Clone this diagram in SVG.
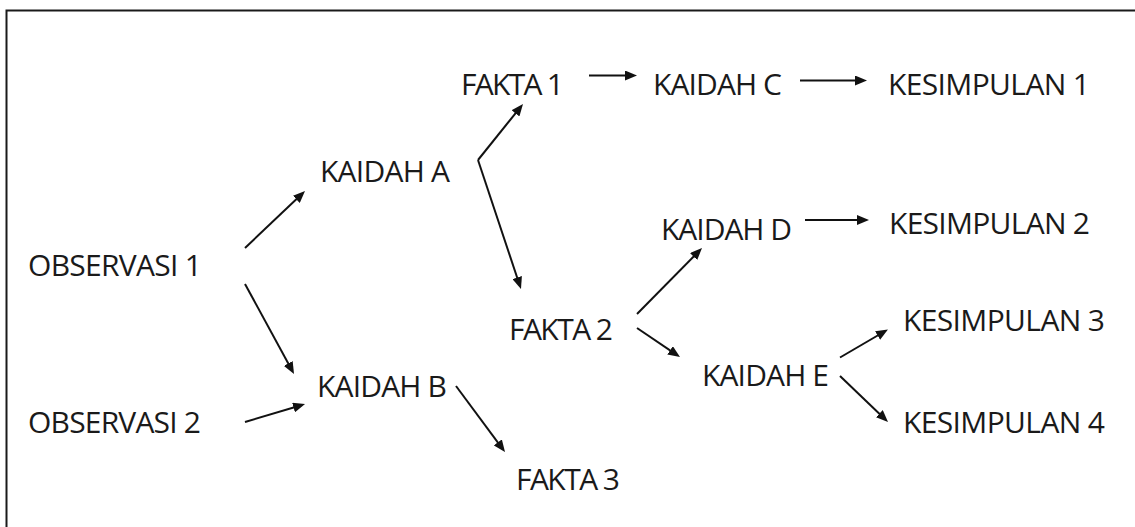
<svg xmlns="http://www.w3.org/2000/svg" width="1135" height="527" viewBox="0 0 1135 527">
  <style>
    .lbl { font-family: "Open Sans", "Noto Sans", "Liberation Sans", sans-serif; font-size: 30px; fill: #1a1a1a; }
    .conn line { stroke: #111; stroke-width: 2; fill: none; marker-end: url(#arrow); }
  </style>
  <defs>
    <marker id="arrow" viewBox="0 0 12 10" markerUnits="userSpaceOnUse" markerWidth="12" markerHeight="10" refX="8" refY="5" orient="auto">
      <path d="M0,0 L12,5 L0,10 z" fill="#111"/>
    </marker>
  </defs>
  <rect x="0" y="0" width="1135" height="527" fill="#fff"/>
  <rect x="6.5" y="10.5" width="1140" height="530" fill="none" stroke="#1a1a1a" stroke-width="2"/>

  <g class="conn" id="connectors">
    <line x1="245" y1="248" x2="302.1" y2="193.8"/>
    <line x1="245" y1="284" x2="292.1" y2="370.5"/>
    <line x1="245" y1="422" x2="301.2" y2="405.2"/>
    <line x1="478" y1="160" x2="520.5" y2="107.1"/>
    <line x1="478" y1="160" x2="519.7" y2="285.2"/>
    <line x1="589" y1="75.5" x2="633" y2="75.5"/>
    <line x1="800" y1="80.5" x2="863" y2="80.5"/>
    <line x1="637" y1="314" x2="699.2" y2="250.9"/>
    <line x1="637" y1="328" x2="676.7" y2="354.8"/>
    <line x1="805" y1="220" x2="865" y2="220"/>
    <line x1="840" y1="357.5" x2="884.5" y2="331.5"/>
    <line x1="840" y1="376" x2="885.1" y2="419.2"/>
    <line x1="456" y1="386" x2="502.6" y2="448.8"/>
  </g>

  <g id="observasi1"><text class="lbl" x="28" y="276" textLength="174">OBSERVASI 1</text></g>
  <g id="observasi2"><text class="lbl" x="28" y="433" textLength="173">OBSERVASI 2</text></g>
  <g id="kaidahA"><text class="lbl" x="320" y="182" textLength="130">KAIDAH A</text></g>
  <g id="kaidahB"><text class="lbl" x="317" y="397" textLength="130">KAIDAH B</text></g>
  <g id="fakta1"><text class="lbl" x="461" y="95" textLength="103">FAKTA 1</text></g>
  <g id="fakta2"><text class="lbl" x="509" y="340" textLength="104">FAKTA 2</text></g>
  <g id="fakta3"><text class="lbl" x="516" y="490" textLength="104">FAKTA 3</text></g>
  <g id="kaidahC"><text class="lbl" x="653" y="95" textLength="129">KAIDAH C</text></g>
  <g id="kaidahD"><text class="lbl" x="661" y="240" textLength="131">KAIDAH D</text></g>
  <g id="kaidahE"><text class="lbl" x="702" y="386" textLength="127">KAIDAH E</text></g>
  <g id="kesimpulan1"><text class="lbl" x="888" y="95" textLength="202">KESIMPULAN 1</text></g>
  <g id="kesimpulan2"><text class="lbl" x="889" y="234" textLength="201">KESIMPULAN 2</text></g>
  <g id="kesimpulan3"><text class="lbl" x="903" y="331" textLength="202">KESIMPULAN 3</text></g>
  <g id="kesimpulan4"><text class="lbl" x="903" y="433" textLength="202">KESIMPULAN 4</text></g>
</svg>
